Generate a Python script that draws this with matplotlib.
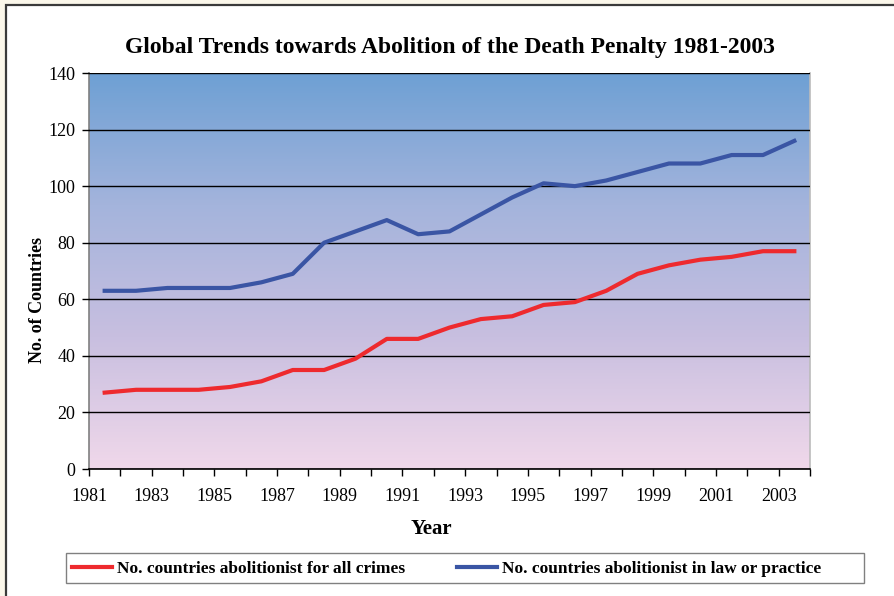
import numpy as np
import matplotlib
matplotlib.use("Agg")
import matplotlib.pyplot as plt
import matplotlib.patches as patches
from matplotlib.colors import LinearSegmentedColormap

# data
years = list(range(1981, 2004))
all_crimes = [27, 28, 28, 28, 29, 31, 35, 35, 39, 46, 46, 50, 53, 54, 58, 59,
              63, 69, 72, 74, 75, 77, 77]
law_or_practice = [63, 63, 64, 64, 64, 66, 69, 80, 84, 88, 83, 84, 90, 96, 101, 100,
                   102, 105, 108, 108, 111, 111, 116]
tick_years = list(range(1981, 2005))
label_years = list(range(1981, 2004, 2))

plt.rcParams['font.family'] = ['Liberation Serif', 'DejaVu Serif']

W, H = 894, 596
fig = plt.figure(figsize=(W / 100, H / 100), dpi=100)
fig.patch.set_facecolor('#fbf7ea')

# white frame with dark border (cropped on right/bottom)
frame = patches.Rectangle((6 / W, -0.1), 1.2, (H - 5) / H + 0.1,
                          transform=fig.transFigure, facecolor='white',
                          edgecolor='#3a3a3a', linewidth=1.6, zorder=-1)
fig.add_artist(frame)

ax = fig.add_axes([89 / W, (H - 469) / H, (810 - 89) / W, (469 - 73) / H])
ax.set_facecolor('none')

# vertical gradient background, blue on top -> pink at bottom
cmap = LinearSegmentedColormap.from_list('bg', ['#6ea0d4', '#a4b4dc', '#c8bfe0', '#f0d8ea'])
grad = np.linspace(0, 1, 256).reshape(-1, 1)
ax.imshow(grad, cmap=cmap, aspect='auto', extent=(0, 1, 0, 1), origin='upper',
          transform=ax.transAxes, zorder=0)

xs = np.array(years) + 0.5
ax.plot(xs, all_crimes, color='#ee2a2e', lw=3.0, zorder=3,
        label='No. countries abolitionist for all crimes')
ax.plot(xs, law_or_practice, color='#3a55a4', lw=3.0, zorder=3,
        label='No. countries abolitionist in law or practice')

ax.set_xlim(1981, 2004)
ax.set_ylim(0, 140)
ax.set_yticks(range(0, 141, 20))
ax.set_xticks(tick_years)
ax.set_xticklabels([str(y) if y in label_years else '' for y in tick_years])
ax.yaxis.grid(True, color='black', lw=1.0, zorder=1)
ax.set_axisbelow(False)
for ln in ax.get_ygridlines():
    ln.set_zorder(1)
ax.tick_params(axis='both', labelsize=13, length=5, width=1, color='black', pad=5)
ax.tick_params(axis='x', pad=9)

ax.spines['left'].set_color('#808080')
ax.spines['right'].set_color('#bbbbbb')
ax.spines['top'].set_visible(False)
ax.spines['bottom'].set_color('black')
for s in ax.spines.values():
    s.set_linewidth(1.2)

ax.set_xlabel('Year', fontsize=15, fontweight='bold')
ax.xaxis.set_label_coords((431 - 89) / (810 - 89), -(519 - 469) / (469 - 73))
ax.set_ylabel('No. of Countries', fontsize=13, fontweight='bold')
ax.yaxis.set_label_coords(-(89 - 46) / (810 - 89), (469 - 300) / (469 - 73))
fig.text(450 / W, 1 - 47 / H, 'Global Trends towards Abolition of the Death Penalty 1981-2003',
         ha='center', va='center', fontsize=17, fontweight='bold')

# legend box
box = patches.Rectangle((66 / W, (H - 583) / H), (864 - 66) / W, 30 / H,
                        transform=fig.transFigure, facecolor='white',
                        edgecolor='#808080', linewidth=1.0)
fig.add_artist(box)
leg = fig.legend(loc='center left', ncol=2,
                 bbox_to_anchor=(72 / W, 1 - 569 / H),
                 prop={'weight': 'bold', 'size': 12.5}, handlelength=2.3,
                 handletextpad=0.3, columnspacing=3.0, borderaxespad=0,
                 borderpad=0, frameon=False)

fig.savefig('out.png', dpi=100)
